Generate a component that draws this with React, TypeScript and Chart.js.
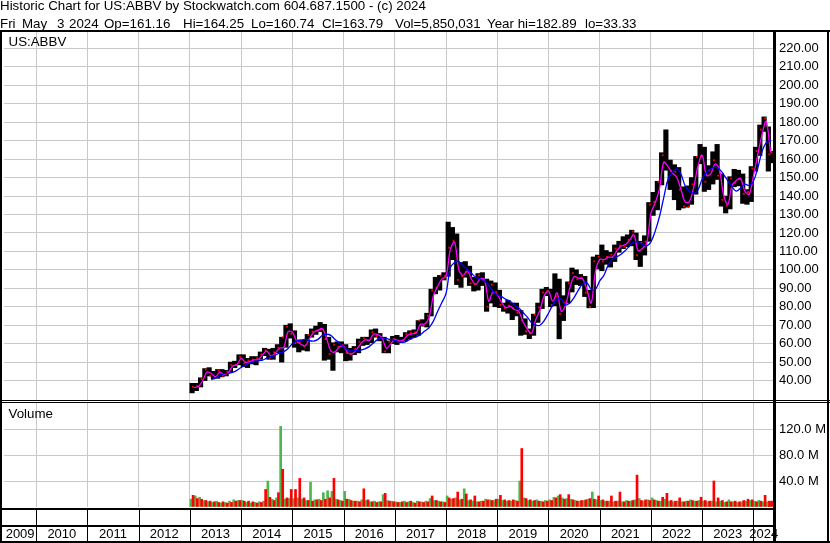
import React, { useEffect, useRef } from 'react';
import { Chart, registerables } from 'chart.js';

Chart.register(...registerables);

// ---------- data (monthly, Jan 2013 .. May 2024) ----------
const FIRST_YEAR = 2013;
const LAST_TRADE = '2024-05-03';

const highs = [
  38.5, 38.5, 41.5, 46.5, 47.0, 45.0, 46.0, 46.0, 45.5, 50.0, 50.5, 54.0,
  54.0, 52.0, 53.0, 53.0, 55.5, 57.5, 57.0, 57.5, 59.5, 63.5, 70.0, 70.8,
  67.0, 62.0, 62.0, 65.0, 68.0, 69.5, 71.5, 70.5, 63.5, 60.5, 61.0, 61.0,
  59.5, 57.5, 58.5, 62.5, 63.5, 63.5, 67.5, 68.0, 65.5, 63.5, 61.5, 64.0,
  64.5, 63.5, 66.0, 67.0, 67.5, 72.5, 73.0, 76.5, 89.5, 96.0, 97.0, 98.5,
  125.9, 123.0, 119.5, 104.0, 104.5, 102.0, 96.0, 98.0, 98.5, 95.0, 94.0, 93.0,
  89.0, 82.0, 83.5, 82.0, 82.0, 78.0, 73.5, 68.0, 76.0, 82.0, 89.5, 90.5,
  89.5, 97.9, 95.0, 86.0, 93.5, 101.0, 100.0, 97.5, 96.5, 89.0, 107.0, 108.0,
  113.5, 110.5, 109.5, 113.5, 115.5, 118.0, 119.0, 121.5, 120.0, 115.5, 118.5, 136.5,
  142.0, 148.0, 163.5, 175.9, 159.5, 157.0, 155.5, 145.0, 145.5, 150.0, 161.5, 168.0,
  166.5, 156.5, 164.0, 168.0, 152.0, 140.0, 150.5, 154.5, 154.0, 152.0, 143.5, 156.0,
  166.5, 178.5, 182.9, 177.5, 164.3,
];
const lows = [
  33.3, 34.5, 36.5, 40.0, 42.5, 41.0, 41.2, 42.0, 42.5, 44.5, 47.0, 48.5,
  47.5, 47.0, 49.0, 48.5, 51.5, 53.5, 51.5, 51.5, 55.0, 50.0, 58.0, 63.0,
  58.0, 55.5, 56.5, 56.0, 63.5, 65.0, 66.5, 51.0, 51.5, 45.5, 55.5, 55.0,
  50.7, 51.0, 54.0, 55.0, 59.0, 59.5, 60.5, 63.5, 61.5, 55.0, 55.0, 60.0,
  59.5, 60.5, 61.5, 62.5, 63.5, 64.5, 69.5, 69.0, 75.0, 87.0, 89.0, 94.5,
  96.5, 105.5, 92.0, 90.5, 96.0, 91.5, 88.5, 89.0, 91.5, 77.5, 82.0, 80.0,
  79.5, 77.5, 76.5, 73.0, 75.0, 64.5, 65.0, 62.7, 64.5, 71.5, 79.0, 86.0,
  80.0, 80.5, 62.6, 72.5, 82.0, 88.0, 92.0, 91.5, 85.5, 79.4, 79.5, 100.5,
  99.5, 103.0, 101.5, 104.5, 109.5, 111.5, 112.5, 113.0, 105.5, 101.8, 108.0, 115.5,
  129.5, 132.5, 146.0, 154.0, 143.5, 138.0, 132.5, 133.5, 134.0, 135.5, 141.0, 157.5,
  142.5, 143.5, 146.5, 149.0, 134.5, 130.8, 133.0, 145.0, 145.5, 136.0, 135.5, 137.0,
  153.5, 162.0, 175.0, 153.5, 158.0,
];
const closes = [
  36.6, 37.0, 40.8, 46.0, 42.7, 41.3, 45.5, 42.6, 44.7, 48.4, 48.5, 52.8,
  49.3, 50.9, 51.4, 52.1, 54.3, 56.4, 52.3, 55.3, 57.8, 63.4, 69.2, 65.4,
  60.3, 60.7, 58.5, 64.7, 66.6, 67.2, 67.5, 62.5, 54.4, 59.5, 58.1, 59.2,
  54.9, 54.6, 57.1, 61.0, 62.9, 61.9, 66.2, 64.1, 63.1, 55.8, 61.0, 62.6,
  61.1, 61.8, 65.2, 65.9, 66.1, 72.5, 69.9, 75.2, 88.9, 90.3, 96.9, 96.7,
  112.0, 115.8, 94.6, 96.6, 98.9, 92.7, 92.2, 97.0, 94.6, 80.0, 92.0, 88.0,
  81.0, 79.2, 80.6, 79.4, 76.7, 72.7, 66.6, 65.7, 75.7, 79.6, 87.7, 88.5,
  81.0, 85.7, 76.2, 82.2, 92.7, 98.2, 94.9, 95.8, 87.6, 79.8, 104.6, 107.2,
  104.5, 107.0, 108.2, 111.5, 113.2, 112.6, 116.3, 120.8, 107.9, 114.7, 115.3, 135.4,
  136.9, 147.8, 162.1, 146.9, 153.6, 153.2, 143.5, 134.4, 134.2, 146.4, 161.2, 161.6,
  147.8, 153.9, 159.4, 151.1, 138.0, 134.7, 149.6, 147.0, 149.1, 141.2, 142.2, 155.0,
  164.4, 176.0, 182.1, 162.6, 163.8,
];
const maFast = [
  36.2, 36.8, 39.9, 44.6, 43.8, 42.1, 44.5, 43.3, 44.3, 47.8, 48.6, 52.0,
  50.0, 50.2, 51.2, 51.4, 53.9, 56.0, 53.3, 54.9, 57.5, 58.0, 66.5, 66.2,
  61.4, 59.7, 58.9, 62.6, 66.2, 67.2, 68.2, 63.0, 56.0, 55.5, 58.2, 58.6,
  55.0, 54.4, 56.7, 59.9, 62.1, 61.7, 65.1, 64.9, 63.3, 57.5, 59.6, 62.3,
  61.5, 61.9, 64.5, 65.3, 65.8, 70.5, 70.6, 74.0, 85.6, 90.9, 95.0, 96.6,
  111.0, 115.0, 100.0, 97.0, 99.6, 94.7, 92.2, 95.2, 94.8, 83.0, 88.0, 86.5,
  82.5, 79.5, 80.3, 78.5, 77.6, 72.0, 68.0, 65.5, 73.0, 78.2, 86.0, 88.4,
  83.0, 87.5, 77.5, 80.7, 90.2, 96.3, 95.5, 95.1, 89.3, 82.0, 99.0, 105.7,
  105.5, 106.9, 106.9, 110.3, 112.9, 113.7, 116.0, 119.0, 110.4, 111.7, 114.3, 130.7,
  136.3, 144.0, 158.4, 156.0, 152.5, 150.3, 143.8, 136.8, 137.0, 144.6, 156.2, 162.2,
  151.2, 152.0, 157.4, 154.8, 140.7, 135.4, 145.7, 148.4, 149.5, 142.6, 140.9, 150.8,
  162.2, 173.2, 180.5, 164.0, 166.0,
];
const maSlow = [
  null, null, null, null, 40.5, 41.3, 42.7, 43.7, 43.9, 44.4, 45.5, 47.1,
  48.4, 49.5, 50.3, 50.7, 51.1, 52.1, 53.0, 53.7, 55.0, 55.7, 57.4, 59.9,
  61.5, 61.8, 62.3, 61.6, 61.4, 62.3, 64.4, 65.1, 64.5, 62.2, 60.4, 58.2,
  56.6, 55.9, 56.4, 56.5, 57.2, 58.4, 60.4, 62.3, 63.2, 62.8, 62.2, 61.8,
  61.0, 60.7, 61.6, 62.9, 63.6, 64.9, 66.8, 68.6, 72.1, 77.3, 82.2, 87.2,
  101.0, 104.0, 104.5, 102.0, 100.0, 98.0, 96.0, 95.0, 94.0, 91.5, 88.5, 86.5,
  85.5, 84.0, 83.0, 81.0, 79.5, 77.0, 74.5, 71.5, 70.0, 70.0, 72.5, 76.5,
  81.0, 84.0, 84.0, 81.0, 82.0, 85.0, 89.0, 92.5, 93.0, 89.5, 89.5, 94.0,
  97.1, 102.7, 105.8, 107.0, 108.5, 110.5, 113.0, 115.1, 115.2, 113.7, 113.0, 115.2,
  121.0, 128.9, 139.2, 149.0, 152.9, 154.7, 152.0, 145.6, 142.7, 141.5, 143.3, 149.2,
  152.9, 154.7, 155.7, 154.6, 151.8, 148.3, 144.9, 142.7, 144.4, 146.4, 145.8, 148.0,
  155.0, 164.0, 169.0, 170.0, 170.5,
];
// volume in millions of shares
const volUp = [
  12, 17, 15, 10, 8, 7, 9, 6, 7, 9, 11, 10,
  10, 7, 6, 7, 8, 9, 40, 12, 14, 124, 12, 13,
  13, 14, 12, 10, 38, 11, 12, 22, 25, 24, 12, 10,
  24, 12, 9, 9, 11, 10, 8, 9, 8, 19, 10, 9,
  8, 7, 9, 8, 7, 9, 8, 9, 13, 10, 9, 8,
  17, 12, 14, 11, 28, 10, 9, 8, 9, 12, 11, 10,
  12, 10, 9, 9, 10, 40, 14, 10, 9, 11, 9, 10,
  11, 15, 17, 14, 13, 12, 10, 9, 10, 12, 23, 11,
  10, 9, 9, 8, 9, 8, 10, 9, 11, 13, 9, 11,
  14, 10, 9, 12, 9, 8, 9, 8, 9, 11, 9, 10,
  9, 8, 9, 8, 9, 7, 11, 8, 7, 8, 9, 10,
  9, 10, 8, 8, 7,
];
const volDown = [
  18, 13, 12, 10, 9, 8, 7, 8, 6, 7, 9, 10,
  9, 9, 8, 6, 7, 27, 15, 10, 22, 58, 14, 27,
  27, 44, 14, 10, 9, 11, 10, 12, 14, 44, 11, 9,
  12, 10, 9, 8, 28, 11, 8, 7, 8, 21, 9, 8,
  7, 8, 7, 9, 6, 8, 7, 8, 17, 10, 8, 7,
  14, 13, 23, 12, 20, 11, 17, 8, 9, 11, 10, 12,
  18, 11, 10, 11, 9, 90, 13, 11, 10, 9, 8, 9,
  10, 14, 19, 12, 19, 11, 9, 10, 11, 13, 12, 17,
  11, 9, 17, 9, 23, 8, 9, 10, 49, 10, 11, 10,
  11, 9, 15, 21, 10, 9, 14, 8, 9, 10, 9, 15,
  10, 9, 40, 14, 10, 8, 8, 9, 8, 10, 12, 11,
  8, 9, 18, 9, 9,
];

const priceTicks = [30, 40, 50, 60, 70, 80, 90, 100, 110, 120, 130, 140, 150, 160, 170, 180, 190, 200, 210, 220, 230];
const volumeTicks = [0, 40, 80, 120, 160];
const yearStarts = [2010, 2011, 2012, 2013, 2014, 2015, 2016, 2017, 2018, 2019, 2020, 2021, 2022, 2023, 2024];
const yearLabels = ['2009', '2010', '2011', '2012', '2013', '2014', '2015', '2016', '2017', '2018', '2019', '2020', '2021', '2022', '2023', '2024'];

// axis ranges
const X_MIN = 2009.371;
const X_MAX = 2024.402;
const PRICE_MIN = 27.83;
const PRICE_MAX = 230;
const VOL_MAX = 160;

// ---------- helpers ----------
const lastDec = (() => {
  const [y, m, d] = LAST_TRADE.split('-').map(Number);
  const s = Date.UTC(y, 0, 1);
  const e = Date.UTC(y + 1, 0, 1);
  return y + (Date.UTC(y, m - 1, d) + 43200000 - s) / (e - s);
})();
const monthStart = (i: number) => FIRST_YEAR + Math.floor(i / 12) + (i % 12) / 12;
const monthEnd = (i: number) => Math.min(monthStart(i) + 1 / 12, lastDec);
const monthMid = (i: number) => (monthStart(i) + monthEnd(i)) / 2;

const yearCenters = yearLabels.map((_, i) => {
  if (i === 0) return (X_MIN + yearStarts[0]) / 2;
  const y = yearStarts[i - 1];
  return i === yearLabels.length - 1 ? (y + X_MAX) / 2 : y + 0.5;
});

const FONT = '"Liberation Sans", Arial, Helvetica, sans-serif';
const GRID = '#c8c8c8';
const CLEAR = 'rgba(0,0,0,0)';

const framePlugin = {
  id: 'stockFrame',
  afterDraw(chart: any) {
    const { ctx, width: W, height: H, chartArea: ca, scales } = chart;
    const top = Math.round(ca.top);
    const right = Math.round(ca.right);
    const split = Math.round(scales.y.bottom);
    const volBottom = Math.round(scales.yVol.bottom);
    const rowLine = Math.round(scales.x.bottom);
    ctx.save();
    ctx.fillStyle = '#000';
    ctx.fillRect(0, top, W, 2);
    ctx.fillRect(0, split - 3, W, 1);
    ctx.fillStyle = '#fff';
    ctx.fillRect(0, split - 2, W, 1);
    ctx.fillStyle = '#000';
    ctx.fillRect(0, split - 1, W, 1);
    ctx.fillRect(0, volBottom + 1, right + 1, 2);
    ctx.fillRect(0, rowLine - 2, right + 1, 2);
    ctx.fillRect(0, H - 2, W, 2);
    ctx.fillRect(0, top, 2, H - top);
    ctx.fillRect(right - 1, top, 3, H - top);
    ctx.fillRect(W - 3, top, 2, H - top);
    for (const y of yearStarts) {
      const px = Math.round(scales.x.getPixelForValue(y));
      ctx.fillRect(px, volBottom + 3, 1, H - 2 - (volBottom + 3));
    }
    ctx.restore();
  },
};

const headerLine2: [string, number][] = [
  ['Fri', 0],
  ['May', 22],
  ['3', 57],
  ['2024', 69],
  ['Op=161.16', 104],
  ['Hi=164.25', 183],
  ['Lo=160.74', 251],
  ['Cl=163.79', 322],
  ['Vol=5,850,031', 395],
  ['Year hi=182.89', 487],
  ['lo=33.33', 585],
];

export default function App() {
  const ref = useRef<HTMLCanvasElement>(null);

  useEffect(() => {
    const canvas = ref.current;
    if (!canvas) return;
    Chart.defaults.font.family = FONT;
    Chart.defaults.font.size = 13;
    Chart.defaults.color = '#000';

    const rangeData = highs.map((h, i) => ({ x: monthMid(i), y: [lows[i], h] }));
    const closeData = closes.map((c, i) => ({ x: monthMid(i) + 0.02, y: c }));
    const fastData = maFast.map((v, i) => ({ x: monthEnd(i), y: v }));
    const slowData = maSlow.map((v, i) => ({ x: monthEnd(i), y: v }));
    const upData = volUp.map((v, i) => ({ x: monthMid(i) - 0.02, y: v }));
    const downData = volDown.map((v, i) => ({ x: monthMid(i) + 0.02, y: v }));

    const chart = new Chart(canvas, {
      type: 'bar',
      data: {
        datasets: [
          { type: 'line', label: 'slow', data: slowData as any, xAxisID: 'x', yAxisID: 'y', borderColor: '#0000ff', borderWidth: 1.3, pointRadius: 0, tension: 0.35, order: 1 },
          { type: 'line', label: 'fast', data: fastData as any, xAxisID: 'x', yAxisID: 'y', borderColor: '#ff00ff', borderWidth: 1.3, pointRadius: 0, tension: 0.35, order: 2 },
          { type: 'line', label: 'close', data: closeData as any, xAxisID: 'x', yAxisID: 'y', showLine: false, pointStyle: 'rect', pointRadius: 1.3, pointBackgroundColor: '#ff0000', pointBorderWidth: 0, order: 3 },
          { type: 'bar', label: 'range', data: rangeData as any, xAxisID: 'x', yAxisID: 'y', backgroundColor: '#000', barThickness: 4.5, grouped: false, order: 4 },
          { type: 'bar', label: 'down', data: downData as any, xAxisID: 'x', yAxisID: 'yVol', backgroundColor: '#ff0000', barThickness: 2, grouped: false, order: 5 },
          { type: 'bar', label: 'up', data: upData as any, xAxisID: 'x', yAxisID: 'yVol', backgroundColor: '#4cb84c', barThickness: 2, grouped: false, order: 6 },
        ],
      },
      options: {
        responsive: false,
        animation: false,
        devicePixelRatio: 1,
        events: [],
        layout: { padding: { left: 2, top: 30, right: 0, bottom: 0 } },
        plugins: { legend: { display: false }, tooltip: { enabled: false }, title: { display: false } },
        scales: {
          x: {
            type: 'linear', position: 'bottom', min: X_MIN, max: X_MAX, offset: false, weight: 0,
            grid: { color: GRID, lineWidth: 1, drawTicks: false, offset: false },
            border: { display: false },
            ticks: { display: false },
            afterBuildTicks: (s: any) => { s.ticks = yearStarts.map((v) => ({ value: v })); },
            afterFit: (s: any) => { s.height = 20; },
          },
          x2: {
            type: 'linear', position: 'bottom', min: X_MIN, max: X_MAX, offset: false, weight: 1,
            grid: { display: false, drawTicks: false },
            border: { display: false },
            ticks: { autoSkip: false, maxRotation: 0, minRotation: 0, padding: 0, color: '#000', font: { size: 13 }, callback: (_v: any, i: number) => yearLabels[i] },
            afterBuildTicks: (s: any) => { s.ticks = yearCenters.map((v) => ({ value: v })); },
            afterFit: (s: any) => { s.height = 16; },
          },
          y: {
            type: 'linear', position: 'right', stack: 'panels', stackWeight: 373, min: PRICE_MIN, max: PRICE_MAX,
            grid: { color: (c: any) => (c.tick && c.tick.value >= 40 && c.tick.value <= 220 ? GRID : CLEAR), lineWidth: 1, drawTicks: false },
            border: { display: false },
            ticks: { padding: 5, color: '#000', font: { size: 13 }, autoSkip: false, callback: (v: any) => (v >= 40 && v <= 220 ? Number(v).toFixed(2) : '') },
            afterBuildTicks: (s: any) => { s.ticks = priceTicks.map((v) => ({ value: v })); },
            afterFit: (s: any) => { s.width = 56; },
          },
          yVol: {
            type: 'linear', position: 'right', stack: 'panels', stackWeight: 104, min: 0, max: VOL_MAX,
            grid: { color: (c: any) => (c.tick && c.tick.value > 0 && c.tick.value < VOL_MAX ? GRID : CLEAR), lineWidth: 1, drawTicks: false },
            border: { display: false },
            ticks: { padding: 5, color: '#000', font: { size: 13 }, autoSkip: false, callback: (v: any) => (v > 0 && v < VOL_MAX ? `${Number(v).toFixed(1)} M` : '') },
            afterBuildTicks: (s: any) => { s.ticks = volumeTicks.map((v) => ({ value: v })); },
            afterFit: (s: any) => { s.width = 56; },
          },
        } as any,
      },
      plugins: [framePlugin],
    } as any);

    return () => chart.destroy();
  }, []);

  const textStyle: React.CSSProperties = {
    position: 'absolute',
    fontFamily: FONT,
    fontSize: '13.33px',
    lineHeight: '15px',
    color: '#000',
    whiteSpace: 'pre',
    pointerEvents: 'none',
  };

  return (
    <div style={{ position: 'fixed', left: 0, top: 0, width: 830, height: 543, background: '#fff', overflow: 'hidden' }}>
      <canvas ref={ref} width={830} height={543} style={{ position: 'absolute', left: 0, top: 0, width: 830, height: 543 }} />
      <div style={{ ...textStyle, left: 0, top: -1.6 }}>Historic Chart for US:ABBV by Stockwatch.com 604.687.1500 - (c) 2024</div>
      {headerLine2.map(([t, x]) => (
        <div key={t} style={{ ...textStyle, left: x, top: 15.7 }}>{t}</div>
      ))}
      <div style={{ ...textStyle, left: 8.5, top: 34.4 }}>US:ABBV</div>
      <div style={{ ...textStyle, left: 8.5, top: 406 }}>Volume</div>
    </div>
  );
}
